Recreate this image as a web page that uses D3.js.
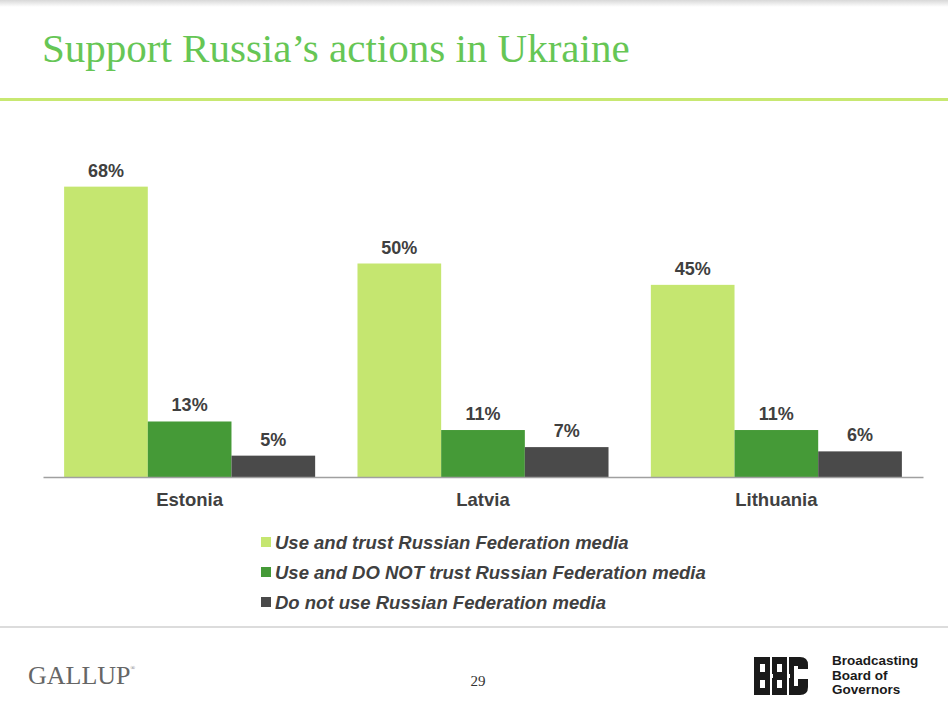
<!DOCTYPE html>
<html>
<head>
<meta charset="utf-8">
<script src="https://cdn.jsdelivr.net/npm/d3@7"></script>
<style>
  body { margin: 0; background: #fff; }
  svg { display: block; }
</style>
</head>
<body>
<svg width="948" height="715"></svg>
<script>
// data
const countries = ['Estonia', 'Latvia', 'Lithuania'];
const seriesNames = [
  'Use and trust Russian Federation media',
  'Use and DO NOT trust Russian Federation media',
  'Do not use Russian Federation media'
];
const trustValues = [68, 50, 45];
const distrustValues = [13, 11, 11];
const nonUserValues = [5, 7, 6];
const seriesColors = ['#c5e670', '#459a37', '#4a4a4a'];

const svg = d3.select('svg');
const width = +svg.attr('width');
const height = +svg.attr('height');

const table = countries.map((c, i) => ({
  country: c,
  values: [trustValues[i], distrustValues[i], nonUserValues[i]]
}));

// slide chrome: top shadow, title, rule
const defs = svg.append('defs');
const grad = defs.append('linearGradient')
  .attr('id', 'shade').attr('x1', 0).attr('x2', 0).attr('y1', 0).attr('y2', 1);
grad.append('stop').attr('offset', '0%').attr('stop-color', '#d8d8d8');
grad.append('stop').attr('offset', '100%').attr('stop-color', '#ffffff');
svg.append('rect').attr('width', width).attr('height', 7).attr('fill', 'url(#shade)');

svg.append('text')
  .attr('x', 42).attr('y', 62)
  .attr('font-family', 'Liberation Serif, serif')
  .attr('font-size', 41)
  .attr('fill', '#66c655')
  .text('Support Russia’s actions in Ukraine');

svg.append('rect')
  .attr('x', 0).attr('y', 98).attr('width', width).attr('height', 3)
  .attr('fill', '#c8e872');

// chart
const x0 = d3.scaleBand()
  .domain(countries)
  .range([43, 923])
  .paddingInner(0.1443)
  .paddingOuter(0.072);

const x1 = d3.scaleBand()
  .domain(d3.range(seriesNames.length))
  .range([0, x0.bandwidth()]);

const y = d3.scaleLinear()
  .domain([0, 100])
  .range([477, 50]);

const groups = svg.append('g').selectAll('g')
  .data(table)
  .join('g')
    .attr('transform', d => `translate(${x0(d.country)},0)`);

groups.selectAll('rect')
  .data(d => d.values)
  .join('rect')
    .attr('x', (d, i) => x1(i))
    .attr('y', d => y(d))
    .attr('width', x1.bandwidth())
    .attr('height', d => y(0) - y(d))
    .attr('fill', (d, i) => seriesColors[i]);

groups.selectAll('text.val')
  .data(d => d.values)
  .join('text')
    .attr('class', 'val')
    .attr('x', (d, i) => x1(i) + x1.bandwidth() / 2)
    .attr('y', d => y(d) - 10)
    .attr('text-anchor', 'middle')
    .attr('font-family', 'Liberation Sans, Arial, sans-serif')
    .attr('font-weight', 'bold')
    .attr('font-size', 18)
    .attr('fill', '#404040')
    .text(d => d + '%');

// category axis
const xAxis = d3.axisBottom(x0).tickSize(0).tickPadding(16);
const xAxisGroup = svg.append('g')
  .attr('transform', `translate(0,${y(0)})`)
  .call(xAxis);
xAxisGroup.select('.domain')
  .attr('stroke', '#a0a0a0')
  .attr('stroke-width', 1.5);
xAxisGroup.selectAll('text')
  .attr('font-family', 'Liberation Sans, Arial, sans-serif')
  .attr('font-weight', 'bold')
  .attr('font-size', 18.5)
  .attr('fill', '#404040');

// legend
const legend = svg.append('g').selectAll('g')
  .data(seriesNames)
  .join('g')
    .attr('transform', (d, i) => `translate(261,${542 + i * 30})`);
legend.append('rect')
  .attr('x', 0).attr('y', -5).attr('width', 10).attr('height', 10)
  .attr('fill', (d, i) => seriesColors[i]);
legend.append('text')
  .attr('x', 14).attr('y', 6.5)
  .attr('font-family', 'Liberation Sans, Arial, sans-serif')
  .attr('font-weight', 'bold')
  .attr('font-style', 'italic')
  .attr('font-size', 18.5)
  .attr('fill', '#404040')
  .text(d => d);

// footer
svg.append('rect')
  .attr('x', 0).attr('y', 626).attr('width', width).attr('height', 2)
  .attr('fill', '#dcdcdc');

const gallup = svg.append('text')
  .attr('x', 28).attr('y', 684)
  .attr('font-family', 'Liberation Serif, serif')
  .attr('font-size', 26)
  .attr('fill', '#666')
  .text('GALLUP');
gallup.append('tspan')
  .attr('font-size', 6).attr('dy', -14)
  .text('®');

svg.append('text')
  .attr('x', 478).attr('y', 686)
  .attr('text-anchor', 'middle')
  .attr('font-family', 'Liberation Serif, serif')
  .attr('font-size', 15)
  .attr('fill', '#333')
  .text('29');

// BBG mark
const logo = svg.append('g').attr('transform', 'translate(754,657)');
logo.append('path')
  .attr('d', 'M0,0 H46 Q54,0 54,8 V12 H44 V9 H40 V29 H44 V22 H54 V30 Q54,38 46,38 H0 Z')
  .attr('fill', '#1a1a1a');
[[6, 7], [6, 23], [23, 7], [23, 23]].forEach(([cx, cy]) => {
  logo.append('rect').attr('x', cx).attr('y', cy).attr('width', 5).attr('height', 8).attr('fill', '#fff');
});
[[16, 17], [33, 17]].forEach(([cx, cy]) => {
  logo.append('rect').attr('x', cx).attr('y', cy).attr('width', 3).attr('height', 4).attr('fill', '#fff');
});
logo.append('rect').attr('x', 16).attr('y', 0).attr('width', 2).attr('height', 38).attr('fill', '#fff');
logo.append('rect').attr('x', 33).attr('y', 0).attr('width', 2).attr('height', 38).attr('fill', '#fff');

svg.append('g').selectAll('text')
  .data(['Broadcasting', 'Board of', 'Governors'])
  .join('text')
    .attr('x', 832)
    .attr('y', (d, i) => 665 + i * 14.5)
    .attr('font-family', 'Liberation Sans, Arial, sans-serif')
    .attr('font-weight', 'bold')
    .attr('font-size', 13.5)
    .attr('fill', '#1a1a1a')
    .text(d => d);
</script>
</body>
</html>
